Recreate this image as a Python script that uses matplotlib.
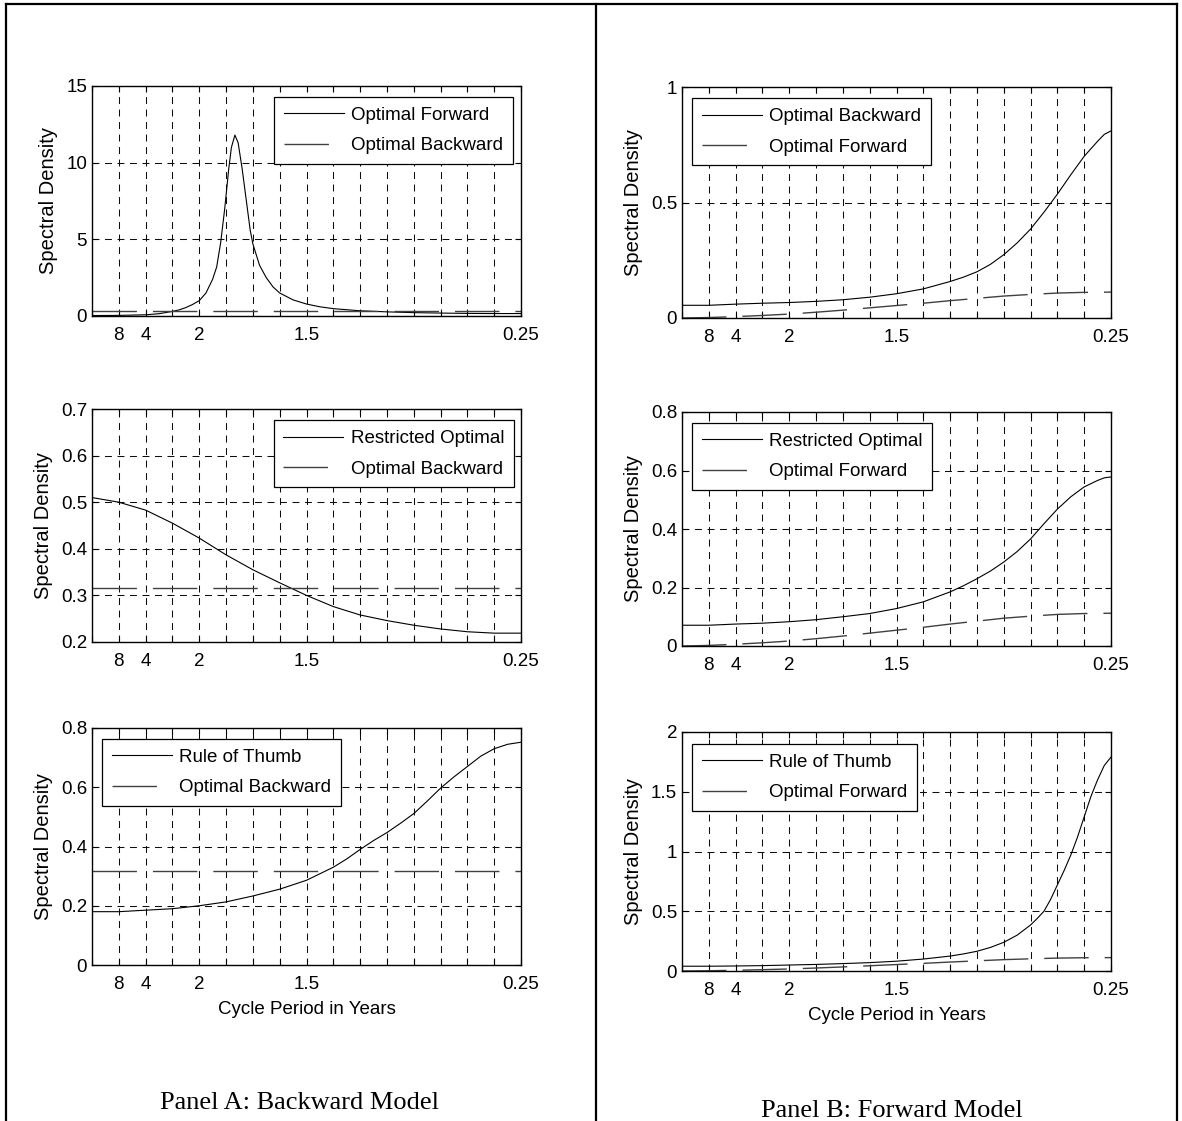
import numpy as np
import matplotlib
matplotlib.use('Agg')
import matplotlib.pyplot as plt
from matplotlib.lines import Line2D

plt.rcParams['font.family'] = ['Liberation Sans', 'DejaVu Sans']
plt.rcParams['lines.scale_dashes'] = False

# ---------------- data ----------------
# x positions are in sixteenths of the frequency range
grid_units = list(range(0, 17))
tick_units = [1, 2, 4, 8, 16]
tick_labels = ['8', '4', '2', '1.5', '0.25']

units = list(range(0, 17))

# Panel A (backward model)
a1_x = [0, 1, 1.5, 2, 2.5, 3, 3.25, 3.5, 3.75, 4, 4.25, 4.5, 4.65, 4.8, 4.95, 5.1, 5.2,
        5.33, 5.45, 5.6, 5.75, 5.9, 6.0, 6.25, 6.5, 6.75, 7.0, 7.5, 8, 8.5, 9, 10, 11,
        12, 13, 14, 15, 16]
a1_opt_forward = [0.03, 0.04, 0.06, 0.08, 0.15, 0.3, 0.4, 0.55, 0.75, 1.0, 1.5, 2.4, 3.2,
                  4.8, 7.0, 9.6, 11.0, 11.8, 11.3, 9.6, 7.6, 5.6, 4.7, 3.3, 2.5, 1.9, 1.5,
                  1.05, 0.78, 0.6, 0.48, 0.34, 0.27, 0.22, 0.19, 0.17, 0.16, 0.16]
a_opt_backward_x = [0, 16]
a_opt_backward = [0.316, 0.316]

a2_x = [0, 1, 2, 3, 4, 5, 6, 7, 8, 9, 10, 11, 12, 13, 14, 15, 16]
a2_restricted = [0.51, 0.50, 0.483, 0.455, 0.423, 0.387, 0.355, 0.327, 0.30, 0.276,
                 0.258, 0.246, 0.236, 0.228, 0.222, 0.219, 0.219]

a3_x = [0, 1, 2, 3, 4, 5, 6, 7, 8, 9, 9.5, 10, 10.5, 11, 11.5, 12, 12.5, 13, 13.5, 14,
        14.5, 15, 15.5, 16]
a3_rule_thumb = [0.18, 0.18, 0.185, 0.19, 0.2, 0.213, 0.233, 0.256, 0.286, 0.33, 0.358,
                 0.39, 0.42, 0.447, 0.478, 0.511, 0.553, 0.597, 0.635, 0.67, 0.705, 0.73,
                 0.745, 0.752]

# Panel B (forward model)
bf_x = [0, 1, 2, 3, 4, 5, 6, 7, 8, 9, 10, 11, 12, 13, 14, 15, 16]
b_opt_forward = [0.0, 0.002, 0.006, 0.011, 0.017, 0.025, 0.034, 0.044, 0.054, 0.064,
                 0.075, 0.085, 0.095, 0.102, 0.108, 0.111, 0.112]

b12_x = [0, 1, 2, 3, 4, 5, 6, 7, 8, 9, 10, 10.5, 11, 11.5, 12, 12.5, 13, 13.5, 14, 14.5,
         15, 15.5, 15.75, 16]
b1_opt_backward = [0.055, 0.055, 0.060, 0.064, 0.067, 0.072, 0.079, 0.090, 0.105, 0.126,
                   0.158, 0.177, 0.200, 0.232, 0.274, 0.325, 0.385, 0.458, 0.536, 0.62,
                   0.700, 0.765, 0.795, 0.810]
b2_restricted = [0.071, 0.071, 0.075, 0.078, 0.083, 0.090, 0.100, 0.111, 0.128, 0.151,
                 0.185, 0.206, 0.230, 0.256, 0.287, 0.323, 0.366, 0.418, 0.468, 0.51,
                 0.544, 0.566, 0.575, 0.578]

b3_x = [0, 1, 2, 3, 4, 5, 6, 7, 8, 9, 10, 10.5, 11, 11.5, 12, 12.5, 13, 13.25, 13.5,
        13.75, 14, 14.25, 14.5, 14.75, 15, 15.25, 15.5, 15.75, 16]
b3_rule_thumb = [0.04, 0.04, 0.042, 0.045, 0.05, 0.055, 0.062, 0.07, 0.082, 0.1, 0.125,
                 0.143, 0.165, 0.197, 0.24, 0.3, 0.385, 0.44, 0.5, 0.6, 0.72, 0.84, 0.97,
                 1.12, 1.29, 1.46, 1.6, 1.72, 1.79]

# y ticks
a1_yticks = [0, 5, 10, 15]
a1_ylabels = ['0', '5', '10', '15']
a2_yticks = [0.2, 0.3, 0.4, 0.5, 0.6, 0.7]
a2_ylabels = ['0.2', '0.3', '0.4', '0.5', '0.6', '0.7']
a3_yticks = [0, 0.2, 0.4, 0.6, 0.8]
a3_ylabels = ['0', '0.2', '0.4', '0.6', '0.8']
b1_yticks = [0, 0.5, 1]
b1_ylabels = ['0', '0.5', '1']
b2_yticks = [0, 0.2, 0.4, 0.6, 0.8]
b2_ylabels = ['0', '0.2', '0.4', '0.6', '0.8']
b3_yticks = [0, 0.5, 1, 1.5, 2]
b3_ylabels = ['0', '0.5', '1', '1.5', '2']

# ---------------- figure ----------------
W, H = 1182, 1121
fig = plt.figure(figsize=(W / 100, H / 100), dpi=100)


def px_axes(x0, y0, x1, y1):
    return fig.add_axes([x0 / W, 1 - y1 / H, (x1 - x0) / W, (y1 - y0) / H])


SOLID = dict(color='black', linewidth=0.8, linestyle='-')
DASHED = dict(color='0.25', linewidth=1.0, linestyle=(0, (32, 11.5)))


def setup(ax, ylim, yticks, ylabels, xlabel=False):
    ax.set_xlim(0, 16)
    ax.set_ylim(*ylim)
    ax.set_xticks(grid_units)
    labs = [''] * len(grid_units)
    for t, l in zip(tick_units, tick_labels):
        labs[grid_units.index(t)] = l
    ax.set_xticklabels(labs)
    ax.set_yticks(yticks)
    ax.set_yticklabels(ylabels)
    ax.tick_params(axis='both', direction='in', top=True, right=True, length=4,
                   width=0.8, labelsize=13.5)
    ax.tick_params(axis='x', pad=8)
    ax.tick_params(axis='y', pad=3.5)
    ax.grid(True, linestyle=(0, (5, 4)), color='0.05', linewidth=0.75)
    for s in ax.spines.values():
        s.set_linewidth(1.0)
    ax.set_ylabel('Spectral Density', fontsize=14.5, labelpad=6)
    if xlabel:
        ax.set_xlabel('Cycle Period in Years', fontsize=13.5, labelpad=6)


def add_legend(ax, loc, anchor):
    leg = ax.legend(loc=loc, bbox_to_anchor=anchor, borderaxespad=0, fontsize=13.5,
                    frameon=True, fancybox=False, framealpha=1, edgecolor='black',
                    handlelength=3.2, handletextpad=0.4, borderpad=0.52,
                    labelspacing=0.71)
    leg.get_frame().set_linewidth(0.9)
    return leg


# Panel A
ax = px_axes(92, 86, 521, 316)
setup(ax, (0, 15), a1_yticks, a1_ylabels)
ax.plot(a1_x, a1_opt_forward, label='Optimal Forward', **SOLID)
ax.plot(a_opt_backward_x, a_opt_backward, label='Optimal Backward', **DASHED)
add_legend(ax, 'upper right', (0.981, 0.952))

ax = px_axes(92, 409, 521, 642)
setup(ax, (0.2, 0.7), a2_yticks, a2_ylabels)
ax.plot(a2_x, a2_restricted, label='Restricted Optimal', **SOLID)
ax.plot(a_opt_backward_x, a_opt_backward, label='Optimal Backward', **DASHED)
add_legend(ax, 'upper right', (0.984, 0.951))

ax = px_axes(92, 728, 521, 965)
setup(ax, (0, 0.8), a3_yticks, a3_ylabels, xlabel=True)
ax.plot(a3_x, a3_rule_thumb, label='Rule of Thumb', **SOLID)
ax.plot(a_opt_backward_x, a_opt_backward, label='Optimal Backward', **DASHED)
add_legend(ax, 'upper left', (0.023, 0.954))

# Panel B
ax = px_axes(682, 87, 1111, 318)
setup(ax, (0, 1), b1_yticks, b1_ylabels)
ax.plot(b12_x, b1_opt_backward, label='Optimal Backward', **SOLID)
ax.plot(bf_x, b_opt_forward, label='Optimal Forward', **DASHED)
add_legend(ax, 'upper left', (0.023, 0.951))

ax = px_axes(682, 412, 1111, 646)
setup(ax, (0, 0.8), b2_yticks, b2_ylabels)
ax.plot(b12_x, b2_restricted, label='Restricted Optimal', **SOLID)
ax.plot(bf_x, b_opt_forward, label='Optimal Forward', **DASHED)
add_legend(ax, 'upper left', (0.023, 0.954))

ax = px_axes(682, 732, 1111, 971)
setup(ax, (0, 2), b3_yticks, b3_ylabels, xlabel=True)
ax.plot(b3_x, b3_rule_thumb, label='Rule of Thumb', **SOLID)
ax.plot(bf_x, b_opt_forward, label='Optimal Forward', **DASHED)
add_legend(ax, 'upper left', (0.023, 0.95))

# Panel titles
fig.text(300 / W, 1 - 1109 / H, 'Panel A: Backward Model', ha='center', va='baseline',
         fontsize=19, family=['Liberation Serif', 'DejaVu Serif'])
fig.text(892 / W, 1 - 1117 / H, 'Panel B: Forward Model', ha='center', va='baseline',
         fontsize=19, family=['Liberation Serif', 'DejaVu Serif'])

# outer frame
frame_kw = dict(color='black', linewidth=1.6, transform=fig.transFigure)
fig.add_artist(Line2D([6 / W, 6 / W], [0, 1 - 4 / H], **frame_kw))
fig.add_artist(Line2D([6 / W, 1177 / W], [1 - 4 / H, 1 - 4 / H], **frame_kw))
fig.add_artist(Line2D([596 / W, 596 / W], [0, 1 - 4 / H], **frame_kw))
fig.add_artist(Line2D([1177 / W, 1177 / W], [0, 1 - 4 / H], **frame_kw))

fig.savefig('out.png', dpi=100)
